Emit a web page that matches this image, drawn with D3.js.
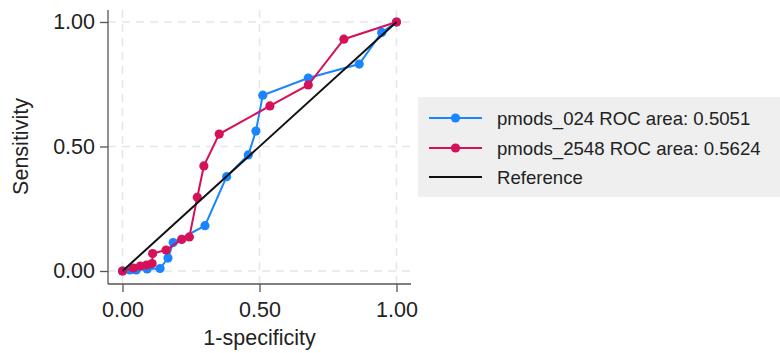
<!DOCTYPE html>
<html>
<head>
<meta charset="utf-8">
<script src="https://cdn.jsdelivr.net/npm/d3@7"></script>
<style>
  html, body { margin: 0; padding: 0; background: #fff; }
  svg { display: block; font-family: "Liberation Sans", Arial, sans-serif; }
</style>
</head>
<body>
<svg id="chart" width="780" height="353"></svg>
<script>
// ROC curve coordinates: 1-specificity (x) and sensitivity (y)
const fpr024 = [0, 0.027, 0.05, 0.09, 0.137, 0.166, 0.185, 0.301, 0.380, 0.459, 0.487, 0.512, 0.678, 0.864, 0.946, 1];
const tpr024 = [0, 0.004, 0.004, 0.008, 0.010, 0.052, 0.114, 0.182, 0.379, 0.466, 0.562, 0.706, 0.775, 0.831, 0.958, 1];

const fpr2548 = [0, 0.040, 0.065, 0.088, 0.108, 0.110, 0.159, 0.216, 0.244, 0.273, 0.297, 0.353, 0.538, 0.678, 0.808, 1];
const tpr2548 = [0, 0.012, 0.020, 0.024, 0.030, 0.070, 0.084, 0.127, 0.137, 0.296, 0.422, 0.550, 0.663, 0.747, 0.931, 1];

const refX = [0, 1];
const refY = [0, 1];

const tickValues = [0, 0.5, 1];
const tickLabels = ["0.00", "0.50", "1.00"];

const legendLabels = ["pmods_024 ROC area: 0.5051", "pmods_2548 ROC area: 0.5624", "Reference"];
const xTitle = "1-specificity";
const yTitle = "Sensitivity";

const colBlue = "#1a85ff";
const colRed = "#d41159";
const colRef = "#111111";

const svg = d3.select("#chart");

// plot region and scales
const region = { left: 108, right: 411, top: 10, bottom: 284 };
const x = d3.scaleLinear().domain([0, 1]).range([122.5, 396.5]);
const y = d3.scaleLinear().domain([0, 1]).range([271, 22]);

const labelSize = 21.5;
const legendSize = 18.6;

// dashed grid lines
const grid = svg.append("g");
grid.selectAll("line.gy").data(tickValues).join("line")
  .attr("x1", region.left).attr("x2", region.right)
  .attr("y1", d => y(d)).attr("y2", d => y(d))
  .attr("stroke", "#e6e6e6").attr("stroke-width", 1.6).attr("stroke-dasharray", "8,6");
grid.selectAll("line.gx").data(tickValues).join("line")
  .attr("y1", region.top).attr("y2", region.bottom)
  .attr("x1", d => x(d)).attr("x2", d => x(d))
  .attr("stroke", "#e6e6e6").attr("stroke-width", 1.6).attr("stroke-dasharray", "8,6");

// axes
const fmt = d => tickLabels[tickValues.indexOf(d)];
const yAxis = svg.append("g")
  .attr("transform", `translate(${region.left},0)`)
  .call(d3.axisLeft(y).tickValues(tickValues).tickFormat(fmt).tickSize(8).tickPadding(5).tickSizeOuter(0));
const xAxis = svg.append("g")
  .attr("transform", `translate(0,${region.bottom})`)
  .call(d3.axisBottom(x).tickValues(tickValues).tickFormat(fmt).tickSize(8).tickPadding(10).tickSizeOuter(0));

[yAxis, xAxis].forEach(g => {
  g.select(".domain").remove();
  g.selectAll(".tick line").attr("stroke", "#555").attr("stroke-width", 1.3);
  g.selectAll(".tick text").attr("font-size", labelSize).attr("fill", "#222")
    .attr("font-family", "'Liberation Sans', Arial, sans-serif");
});

svg.append("line")
  .attr("x1", region.left).attr("x2", region.left)
  .attr("y1", region.top).attr("y2", region.bottom)
  .attr("stroke", "#555").attr("stroke-width", 1.3);
svg.append("line")
  .attr("x1", region.left).attr("x2", region.right)
  .attr("y1", region.bottom).attr("y2", region.bottom)
  .attr("stroke", "#555").attr("stroke-width", 1.3);

// axis titles
svg.append("text")
  .attr("x", x(0.5)).attr("y", 345)
  .attr("text-anchor", "middle").attr("font-size", labelSize).attr("fill", "#222")
  .text(xTitle);
svg.append("text")
  .attr("transform", `translate(28,${y(0.5)}) rotate(-90)`)
  .attr("text-anchor", "middle").attr("font-size", labelSize).attr("fill", "#222")
  .text(yTitle);

// series
const line = d3.line().x(d => x(d[0])).y(d => y(d[1]));
const series = [
  { xs: fpr024, ys: tpr024, color: colBlue },
  { xs: fpr2548, ys: tpr2548, color: colRed }
];
series.forEach(s => {
  const pts = s.xs.map((v, i) => [v, s.ys[i]]);
  const g = svg.append("g");
  g.append("path").datum(pts).attr("d", line)
    .attr("fill", "none").attr("stroke", s.color).attr("stroke-width", 2);
  g.selectAll("circle").data(pts).join("circle")
    .attr("cx", d => x(d[0])).attr("cy", d => y(d[1])).attr("r", 4.6)
    .attr("fill", s.color);
});

// reference line
svg.append("path").datum(refX.map((v, i) => [v, refY[i]])).attr("d", line)
  .attr("fill", "none").attr("stroke", colRef).attr("stroke-width", 2);

// legend
const lg = svg.append("g");
lg.append("rect").attr("x", 418).attr("y", 97).attr("width", 362).attr("height", 100)
  .attr("fill", "#efefef");
const rows = [118, 148, 177];
const legendColors = [colBlue, colRed, colRef];
legendLabels.forEach((lab, i) => {
  lg.append("line").attr("x1", 429).attr("x2", 482).attr("y1", rows[i]).attr("y2", rows[i])
    .attr("stroke", legendColors[i]).attr("stroke-width", 2);
  if (i < 2) {
    lg.append("circle").attr("cx", 455.5).attr("cy", rows[i]).attr("r", 4.6).attr("fill", legendColors[i]);
  }
  lg.append("text").attr("x", 497).attr("y", rows[i]).attr("dy", "0.35em")
    .attr("font-size", legendSize).attr("fill", "#222").text(lab);
});
</script>
</body>
</html>
